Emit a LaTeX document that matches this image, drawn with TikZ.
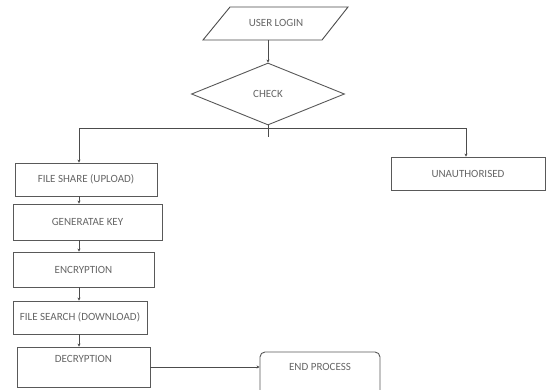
\documentclass[tikz,border=0pt]{standalone}
\usepackage{fontspec}
\setmainfont{Carlito}
\usetikzlibrary{shapes.geometric,arrows.meta}
\begin{document}
\begin{tikzpicture}[x=1pt, y=-1pt,
    every node/.style={font=\fontsize{11}{12}\selectfont, text=black!60},
    flowbox/.style={draw=black!65, line width=0.9pt, rectangle, inner sep=2pt},
    arr/.style={draw=black!70, line width=0.9pt, -{Stealth[length=3pt,width=3pt]}},
    ln/.style={draw=black!70, line width=0.9pt}]
    \clip (0,0) rectangle (547,389);
    \fill[white] (0,0) rectangle (547,389);
    \draw[ln] (230,7) -- (348,7) -- (322,40) -- (203,40) -- cycle;
    \node (login) at (276,23) {USER LOGIN};
    \coordinate (loginbot) at (268,40);
    \node[diamond, draw=black!65, line width=0.9pt, minimum width=153, minimum height=62, inner sep=0pt] (check) at (268,94) {CHECK};
    \coordinate (fork) at (268,128);
    \coordinate (stub) at (268,137);
    \coordinate (spine) at (79,0);
    \node[flowbox, minimum width=142, minimum height=33] (share) at (86,179.5) {FILE SHARE (UPLOAD)};
    \node[flowbox, minimum width=149, minimum height=36] (keygen) at (87.5,222) {GENERATAE KEY};
    \node[flowbox, minimum width=141, minimum height=35] (enc) at (83.5,269.5) {ENCRYPTION};
    \node[flowbox, minimum width=134, minimum height=33] (search) at (80,317.5) {FILE SEARCH (DOWNLOAD)};
    \node[flowbox, minimum width=133, minimum height=40, text depth=16pt] (dec) at (83.5,367) {DECRYPTION};
    \node[flowbox, minimum width=154, minimum height=33] (unauth) at (468,173.5) {UNAUTHORISED};
    \node[flowbox, rounded corners=5pt, minimum width=120, minimum height=46, text depth=16pt] (endp) at (320,375) {END PROCESS};
    \draw[arr] (loginbot) -- (check.north);
    \draw[ln] (check.south) -- (stub);
    \draw[arr] (fork) -| (share.north -| spine);
    \draw[arr] (fork) -| (unauth.north -| 466,0);
    \draw[arr] (share.south -| spine) -- (keygen.north -| spine);
    \draw[arr] (keygen.south -| spine) -- (enc.north -| spine);
    \draw[arr] (enc.south -| spine) -- (search.north -| spine);
    \draw[arr] (search.south -| spine) -- (dec.north -| spine);
    \draw[arr] (dec.east) -- (endp.west |- dec.east);
\end{tikzpicture}
\end{document}
